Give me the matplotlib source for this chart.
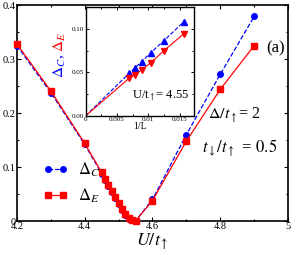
import matplotlib
matplotlib.use('Agg')
import matplotlib.pyplot as plt
from matplotlib.ticker import MultipleLocator, FuncFormatter, FixedLocator

plt.rcParams['font.family'] = ['Liberation Serif', 'DejaVu Serif']
plt.rcParams['mathtext.fontset'] = 'stix'

# main panel: gaps vs U/t_up
U = [4.2, 4.3, 4.4, 4.45, 4.46, 4.47, 4.48, 4.49, 4.5, 4.51, 4.52, 4.53, 4.54, 4.55,
     4.6, 4.7, 4.8, 4.9]
delta_C = [0.325, 0.238, 0.142, 0.088, 0.076, 0.065, 0.054, 0.043, 0.032, 0.021, 0.011,
           0.004, 0.001, 0.0, 0.040, 0.160, 0.272, 0.379]
delta_E = [0.328, 0.241, 0.144, 0.090, 0.078, 0.067, 0.056, 0.045, 0.034, 0.023, 0.013,
           0.005, 0.001, 0.0, 0.038, 0.148, 0.244, 0.325]

# inset: finite-size scaling at U/t_up = 4.55
inv_L = [1/144, 1/128, 1/112, 1/96, 1/80, 1/64]
inset_C = [0.049, 0.0548, 0.0624, 0.0728, 0.0866, 0.108]
inset_E = [0.0433, 0.0471, 0.0529, 0.0613, 0.0751, 0.0943]

blue = '#0000ff'
red = '#ff0000'

fig = plt.figure(figsize=(2.91, 2.57), dpi=100)
ax = fig.add_axes([0.058, 0.140, 0.932, 0.840])

ax.plot(U, delta_C, ls='--', color=blue, lw=0.9, marker='o', ms=4.0,
        mec=blue, mfc=blue, clip_on=False, label=r'$\Delta_C$', zorder=3)
ax.plot(U, delta_E, ls='-', color=red, lw=0.9, marker='s', ms=4.0,
        mec=red, mfc=red, clip_on=False, label=r'$\Delta_E$', zorder=4)

ax.set_xlim(4.2, 5.0)
ax.set_ylim(0, 0.4)
ax.xaxis.set_major_locator(MultipleLocator(0.2))
ax.xaxis.set_minor_locator(MultipleLocator(0.1))
ax.yaxis.set_major_locator(MultipleLocator(0.1))
ax.yaxis.set_minor_locator(MultipleLocator(0.05))
fmt = FuncFormatter(lambda v, p: '%g' % round(v, 3))
ax.xaxis.set_major_formatter(fmt)
ax.yaxis.set_major_formatter(fmt)
ax.tick_params(which='both', direction='in', top=True, right=True, labelsize=7.5, pad=1)
ax.tick_params(which='major', length=3, width=0.8)
ax.tick_params(which='minor', length=1.5, width=0.8)
for s in ax.spines.values():
    s.set_linewidth(1.2)
ax.set_xlabel(r'$U/t_{\uparrow}$', fontsize=13, labelpad=0)

leg = ax.legend(loc='upper left', bbox_to_anchor=(0.07, 0.31), frameon=False,
                numpoints=2, fontsize=12, handlelength=1.5, handletextpad=0.6,
                labelspacing=0.45, borderaxespad=0)

ax.text(0.80, 0.49, r'$\Delta/t_{\uparrow}$= 2', transform=ax.transAxes, fontsize=11.5,
        ha='center', va='center')
ax.text(0.82, 0.34, r'$t_{\downarrow}/t_{\uparrow}$ = $0.5$', transform=ax.transAxes,
        fontsize=12, ha='center', va='center', style='italic')
ax.text(0.955, 0.80, '(a)', transform=ax.transAxes, fontsize=12, ha='center', va='center')

# inset
ins = fig.add_axes([0.294, 0.549, 0.373, 0.423])
ins.plot([0] + inv_L, [0] + inset_C, ls='--', color=blue, lw=0.8, marker=None)
ins.plot(inv_L, inset_C, ls='none', marker='^', ms=4.3, color=blue)
ins.plot([0] + inv_L, [0] + inset_E, ls='-', color=red, lw=0.8, marker=None)
ins.plot(inv_L, inset_E, ls='none', marker='v', ms=4.3, color=red)
ins.set_xlim(0, 0.0173)
ins.set_ylim(0, 0.125)
ins.xaxis.set_major_locator(FixedLocator([0, 0.005, 0.01, 0.015]))
ins.xaxis.set_major_formatter(FuncFormatter(lambda v, p: '%g' % round(v, 4)))
ins.xaxis.set_minor_locator(MultipleLocator(0.0025))
ins.yaxis.set_major_locator(FixedLocator([0, 0.05, 0.10]))
ins.yaxis.set_major_formatter(FuncFormatter(lambda v, p: '%.2f' % v))
ins.yaxis.set_minor_locator(MultipleLocator(0.025))
ins.tick_params(which='both', direction='in', top=True, right=True, labelsize=5, pad=1)
ins.tick_params(which='major', length=2.5, width=0.7)
ins.tick_params(which='minor', length=1.3, width=0.7)
for s in ins.spines.values():
    s.set_linewidth(1.0)
ins.set_xlabel('1/L', fontsize=7, labelpad=0)
ins.text(0.96, 0.18, r'U/t$_{\uparrow}$= 4.55', transform=ins.transAxes, fontsize=9,
         ha='right', va='center')

fig.text(0.206, 0.745, r'$\Delta_C$,', color=blue, fontsize=11, rotation=90,
         ha='center', va='center')
fig.text(0.206, 0.835, r'$\Delta_E$', color=red, fontsize=11, rotation=90,
         ha='center', va='center')

fig.savefig('out.png', dpi=100)
